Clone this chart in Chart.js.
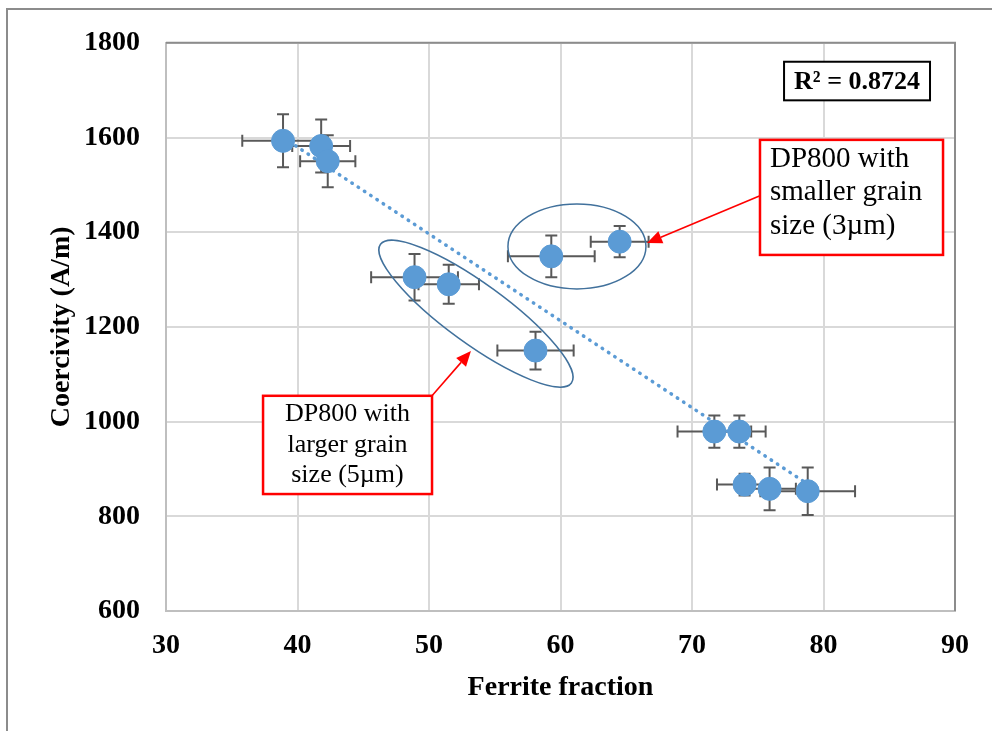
<!DOCTYPE html>
<html>
<head>
<meta charset="utf-8">
<title>Coercivity vs ferrite fraction</title>
<script src="https://cdn.jsdelivr.net/npm/chart.js@4.4.1/dist/chart.umd.min.js"></script>
<style>
  html, body { margin: 0; padding: 0; background: #ffffff; }
  #wrap { position: relative; width: 992px; height: 731px; }
  canvas { display: block; }
</style>
</head>
<body>
<div id="wrap"><canvas id="chart" width="992" height="731"></canvas></div>
<script>
// Ferrite fraction (%) and coercivity (A/m) for each DP800 sample
const ferrite    = [38.9, 41.8, 42.3, 48.9, 51.5, 58.1, 59.3, 64.5, 71.7, 73.6, 74.0, 75.9, 78.8];
const coercivity = [1593, 1582, 1550, 1305, 1290, 1150, 1349, 1380, 979, 979, 867, 858, 853];
// Error bar half-widths
const ferriteErr    = [3.1, 2.2, 2.1, 3.3, 2.3, 2.9, 3.3, 2.2, 2.8, 2.0, 2.1, 2.0, 3.6];
const coercivityErr = [56, 56, 55, 49, 41, 40, 44, 33, 34, 34, 23, 45, 50];

// Linear trend line end points
const trendX = [38.9, 78.8];
const trendY = [1600, 868];
const rSquared = '0.8724';

// Axis ticks
const xTicks = [30, 40, 50, 60, 70, 80, 90];
const yTicks = [600, 800, 1000, 1200, 1400, 1600, 1800];

const SERIF = '"Liberation Serif", "Times New Roman", serif';
const BLUE = '#5B9BD5';

const points = ferrite.map((x, i) => ({ x, y: coercivity[i] }));
const trend = trendX.map((x, i) => ({ x, y: trendY[i] }));

// Error bars are drawn under the markers
const errorBars = {
  id: 'errorBars',
  beforeDatasetsDraw(chart) {
    const { ctx, scales: { x: sx, y: sy } } = chart;
    const cap = 6;
    ctx.save();
    ctx.strokeStyle = '#595959';
    ctx.lineWidth = 2;
    ferrite.forEach((fx, i) => {
      const cx = sx.getPixelForValue(fx);
      const cy = sy.getPixelForValue(coercivity[i]);
      const x0 = sx.getPixelForValue(fx - ferriteErr[i]);
      const x1 = sx.getPixelForValue(fx + ferriteErr[i]);
      const y0 = sy.getPixelForValue(coercivity[i] + coercivityErr[i]);
      const y1 = sy.getPixelForValue(coercivity[i] - coercivityErr[i]);
      ctx.beginPath();
      ctx.moveTo(x0, cy); ctx.lineTo(x1, cy);
      ctx.moveTo(x0, cy - cap); ctx.lineTo(x0, cy + cap);
      ctx.moveTo(x1, cy - cap); ctx.lineTo(x1, cy + cap);
      ctx.moveTo(cx, y0); ctx.lineTo(cx, y1);
      ctx.moveTo(cx - cap, y0); ctx.lineTo(cx + cap, y0);
      ctx.moveTo(cx - cap, y1); ctx.lineTo(cx + cap, y1);
      ctx.stroke();
    });
    ctx.restore();
  }
};

// Frame, plot border, grouping ellipses, callouts and the R² label
const decorations = {
  id: 'decorations',
  beforeDraw(chart) {
    const { ctx, width, height } = chart;
    ctx.save();
    ctx.fillStyle = '#ffffff';
    ctx.fillRect(0, 0, width, height);
    ctx.strokeStyle = '#8c8c8c';
    ctx.lineWidth = 2;
    ctx.beginPath();
    ctx.moveTo(7, height); ctx.lineTo(7, 9); ctx.lineTo(width, 9);
    ctx.stroke();
    ctx.restore();
  },
  afterDatasetsDraw(chart) {
    const { ctx, chartArea: a, scales: { x: sx, y: sy } } = chart;
    const px = v => sx.getPixelForValue(v);
    const py = v => sy.getPixelForValue(v);
    ctx.save();

    // top and right edges of the plot area
    ctx.strokeStyle = '#8c8c8c';
    ctx.lineWidth = 2;
    ctx.beginPath();
    ctx.moveTo(a.left, a.top); ctx.lineTo(a.right, a.top); ctx.lineTo(a.right, a.bottom);
    ctx.stroke();

    // ellipses around the two grain-size groups
    ctx.strokeStyle = '#41719C';
    ctx.lineWidth = 1.5;
    ctx.beginPath();
    ctx.ellipse(px(61.25), py(1370), 69, 42.5, 0, 0, Math.PI * 2);
    ctx.stroke();
    ctx.beginPath();
    ctx.ellipse(px(53.57), py(1228), 118, 30, 36 * Math.PI / 180, 0, Math.PI * 2);
    ctx.stroke();

    // callout boxes
    const callout = (x0, y0, x1, y1, lines, size, lh, align, tx, firstBase) => {
      const L = px(x0), T = py(y0), R = px(x1), B = py(y1);
      ctx.fillStyle = '#ffffff';
      ctx.fillRect(L, T, R - L, B - T);
      ctx.strokeStyle = '#FF0000';
      ctx.lineWidth = 2.5;
      ctx.strokeRect(L, T, R - L, B - T);
      ctx.fillStyle = '#000000';
      ctx.font = size + 'px ' + SERIF;
      ctx.textAlign = align;
      ctx.textBaseline = 'alphabetic';
      lines.forEach((t, i) => ctx.fillText(t, px(tx), T + firstBase + i * lh));
    };
    const arrow = (fx, fy, tx, ty) => {
      const x0 = px(fx), y0 = py(fy), x1 = px(tx), y1 = py(ty);
      const ang = Math.atan2(y1 - y0, x1 - x0);
      const hl = 15, hw = 6.5;
      ctx.strokeStyle = '#FF0000';
      ctx.fillStyle = '#FF0000';
      ctx.lineWidth = 1.6;
      ctx.beginPath();
      ctx.moveTo(x0, y0);
      ctx.lineTo(x1 - hl * Math.cos(ang), y1 - hl * Math.sin(ang));
      ctx.stroke();
      ctx.beginPath();
      ctx.moveTo(x1, y1);
      ctx.lineTo(x1 - hl * Math.cos(ang) + hw * Math.sin(ang), y1 - hl * Math.sin(ang) - hw * Math.cos(ang));
      ctx.lineTo(x1 - hl * Math.cos(ang) - hw * Math.sin(ang), y1 - hl * Math.sin(ang) + hw * Math.cos(ang));
      ctx.closePath();
      ctx.fill();
    };

    arrow(75.17, 1477, 66.58, 1377);
    callout(75.17, 1595, 89.09, 1352,
      ['DP800 with', 'smaller grain', 'size (3\u00B5m)'], 29, 33.5, 'left', 75.93, 27);
    arrow(50.23, 1054.5, 53.19, 1149);
    callout(37.38, 1054.5, 50.23, 847,
      ['DP800 with', 'larger grain', 'size (5\u00B5m)'], 26, 30.5, 'center', 43.8, 25.5);

    // R² box
    const rL = px(77.0), rR = px(88.1), rT = py(1760), rB = py(1678.5);
    ctx.fillStyle = '#ffffff';
    ctx.fillRect(rL, rT, rR - rL, rB - rT);
    ctx.strokeStyle = '#000000';
    ctx.lineWidth = 2;
    ctx.strokeRect(rL, rT, rR - rL, rB - rT);
    ctx.fillStyle = '#000000';
    ctx.font = 'bold 26px ' + SERIF;
    ctx.textAlign = 'center';
    ctx.textBaseline = 'middle';
    ctx.fillText('R\u00B2 = ' + rSquared, (rL + rR) / 2, (rT + rB) / 2 + 1);

    ctx.restore();
  }
};

new Chart(document.getElementById('chart'), {
  type: 'scatter',
  data: {
    datasets: [
      {
        label: 'Coercivity',
        data: points,
        backgroundColor: BLUE,
        borderColor: BLUE,
        pointRadius: 11.5,
        pointHoverRadius: 11.5,
        order: 1
      },
      {
        label: 'Linear trend',
        type: 'line',
        data: trend,
        showLine: true,
        borderColor: BLUE,
        borderWidth: 3.5,
        borderDash: [0.5, 7],
        borderCapStyle: 'round',
        pointRadius: 0,
        fill: false,
        order: 2
      }
    ]
  },
  plugins: [decorations, errorBars],
  options: {
    responsive: false,
    animation: false,
    events: [],
    layout: { padding: { left: 0, top: 38, right: 37, bottom: 0 } },
    plugins: { legend: { display: false }, tooltip: { enabled: false } },
    scales: {
      x: {
        type: 'linear',
        min: 30, max: 90,
        afterBuildTicks: s => { s.ticks = xTicks.map(v => ({ value: v })); },
        afterFit: s => { s.height = 120; },
        grid: { color: '#d9d9d9', lineWidth: 2, drawTicks: false },
        border: { color: '#bfbfbf', width: 2 },
        ticks: {
          color: '#000000',
          padding: 18,
          callback: v => String(v),
          font: { family: SERIF, size: 28, weight: 'bold' }
        },
        title: {
          display: true,
          text: 'Ferrite fraction',
          color: '#000000',
          padding: { top: 0, bottom: 26 },
          font: { family: SERIF, size: 28, weight: 'bold' }
        }
      },
      y: {
        type: 'linear',
        min: 600, max: 1800,
        afterBuildTicks: s => { s.ticks = yTicks.map(v => ({ value: v })); },
        afterFit: s => { s.width = 166; },
        grid: { color: '#d9d9d9', lineWidth: 2, drawTicks: false },
        border: { color: '#bfbfbf', width: 2 },
        ticks: {
          color: '#000000',
          padding: 26,
          callback: v => String(v),
          font: { family: SERIF, size: 28, weight: 'bold' }
        },
        title: {
          display: true,
          text: 'Coercivity (A/m)',
          color: '#000000',
          padding: { top: 45, bottom: 0 },
          font: { family: SERIF, size: 28, weight: 'bold' }
        }
      }
    }
  }
});
</script>
</body>
</html>
